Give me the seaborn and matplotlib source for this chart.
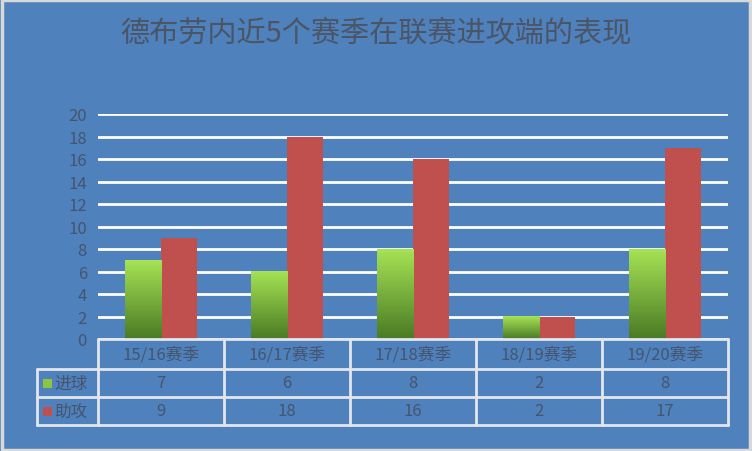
import numpy as np
import pandas as pd
import matplotlib
matplotlib.use("Agg")
import matplotlib.pyplot as plt
import matplotlib.transforms as mtransforms
from matplotlib.colors import LinearSegmentedColormap
from matplotlib.patches import Rectangle
import seaborn as sns

# data
seasons = ["15/16赛季", "16/17赛季", "17/18赛季", "18/19赛季", "19/20赛季"]
goals = [7, 6, 8, 2, 8]
assists = [9, 18, 16, 2, 17]
series_names = ["进球", "助攻"]

title = "德布劳内近5个赛季在联赛进攻端的表现"

bg = "#4F81BD"
txt = "#45556E"
red = "#C0504D"
line_c = "#E3E6EA"

sns.set_theme(style="white")
plt.rcParams["font.family"] = ["Noto Sans CJK SC", "DejaVu Sans"]

df = pd.DataFrame({
    "season": seasons * 2,
    "series": [series_names[0]] * len(seasons) + [series_names[1]] * len(seasons),
    "value": goals + assists,
})

fig = plt.figure(figsize=(7.52, 4.52), dpi=100, facecolor=bg)
ax = fig.add_axes([98 / 752, 1 - 340 / 452, 630 / 752, 225 / 452])
ax.set_facecolor(bg)

sns.barplot(data=df, x="season", y="value", hue="series",
            palette=["#8CC63F", red], width=0.572, saturation=1,
            edgecolor="none", linewidth=0,
            ax=ax, legend=False, zorder=3)

ax.set_ylim(0, 20)
ax.set_xlim(-0.5, len(seasons) - 0.5)
ax.set_yticks(range(0, 21, 2))
ax.yaxis.grid(True, color="white", linewidth=2, zorder=0)
ax.set_axisbelow(True)
for s in ax.spines.values():
    s.set_visible(False)
ax.tick_params(axis="y", length=0, labelsize=12, labelcolor=txt, pad=8)
ax.set_xticks([])
ax.set_xlabel("")
ax.set_ylabel("")

# green gradient on the goal bars
green_cmap = LinearSegmentedColormap.from_list("g", ["#4A7A24", "#A6E355"])
grad = np.linspace(0, 1, 256).reshape(-1, 1)
for p in ax.patches[:len(seasons)]:
    x0, y0 = p.get_x(), p.get_y()
    w, h = p.get_width(), p.get_height()
    p.set_visible(False)
    ax.imshow(grad, cmap=green_cmap, origin="lower", aspect="auto",
              extent=(x0, x0 + w, y0, y0 + h), zorder=3)
ax.set_xlim(-0.5, len(seasons) - 0.5)
ax.set_ylim(0, 20)

# data table under the axis
tr = mtransforms.blended_transform_factory(ax.transData, ax.transAxes)
h_head = 30 / 225
h_row = 28 / 225
y_rows = [0, -h_head, -h_head - h_row, -h_head - 2 * h_row]
x_left = -0.5 - 61 / 126
x_right = len(seasons) - 0.5
lk = dict(color=line_c, linewidth=2, transform=tr, clip_on=False, zorder=5)

ax.plot([-0.5, x_right], [y_rows[0]] * 2, **lk)
for y in y_rows[1:]:
    ax.plot([x_left, x_right], [y, y], **lk)
ax.plot([x_left, x_left], [y_rows[1], y_rows[3]], **lk)
for i in range(len(seasons) + 1):
    ax.plot([i - 0.5, i - 0.5], [y_rows[0], y_rows[3]], **lk)

for i, s in enumerate(seasons):
    ax.text(i, (y_rows[0] + y_rows[1]) / 2, s, transform=tr, ha="center",
            va="center", fontsize=12, color=txt)
    ax.text(i, (y_rows[1] + y_rows[2]) / 2, str(goals[i]), transform=tr,
            ha="center", va="center", fontsize=12, color=txt)
    ax.text(i, (y_rows[2] + y_rows[3]) / 2, str(assists[i]), transform=tr,
            ha="center", va="center", fontsize=12, color=txt)

for j, (name, col) in enumerate(zip(series_names, ["#8CC63F", red])):
    yc = (y_rows[j + 1] + y_rows[j + 2]) / 2
    ax.add_patch(Rectangle((x_left + 0.05, yc - 0.02), 0.07, 0.04,
                           transform=tr, facecolor=col, edgecolor="none",
                           clip_on=False, zorder=6))
    ax.text(x_left + 0.14, yc, name, transform=tr, ha="left", va="center",
            fontsize=12, color=txt)

fig.text(376 / 752, 1 - 33 / 452, title, ha="center", va="center",
         fontsize=21, color="#4A5566")

# light frame around the chart
fig.add_artist(Rectangle((0.002, 0.003), 0.996, 0.994, transform=fig.transFigure,
                         fill=False, edgecolor="#D9D9D9", linewidth=2.5))

fig.savefig("out.png", dpi=100, facecolor=bg)
